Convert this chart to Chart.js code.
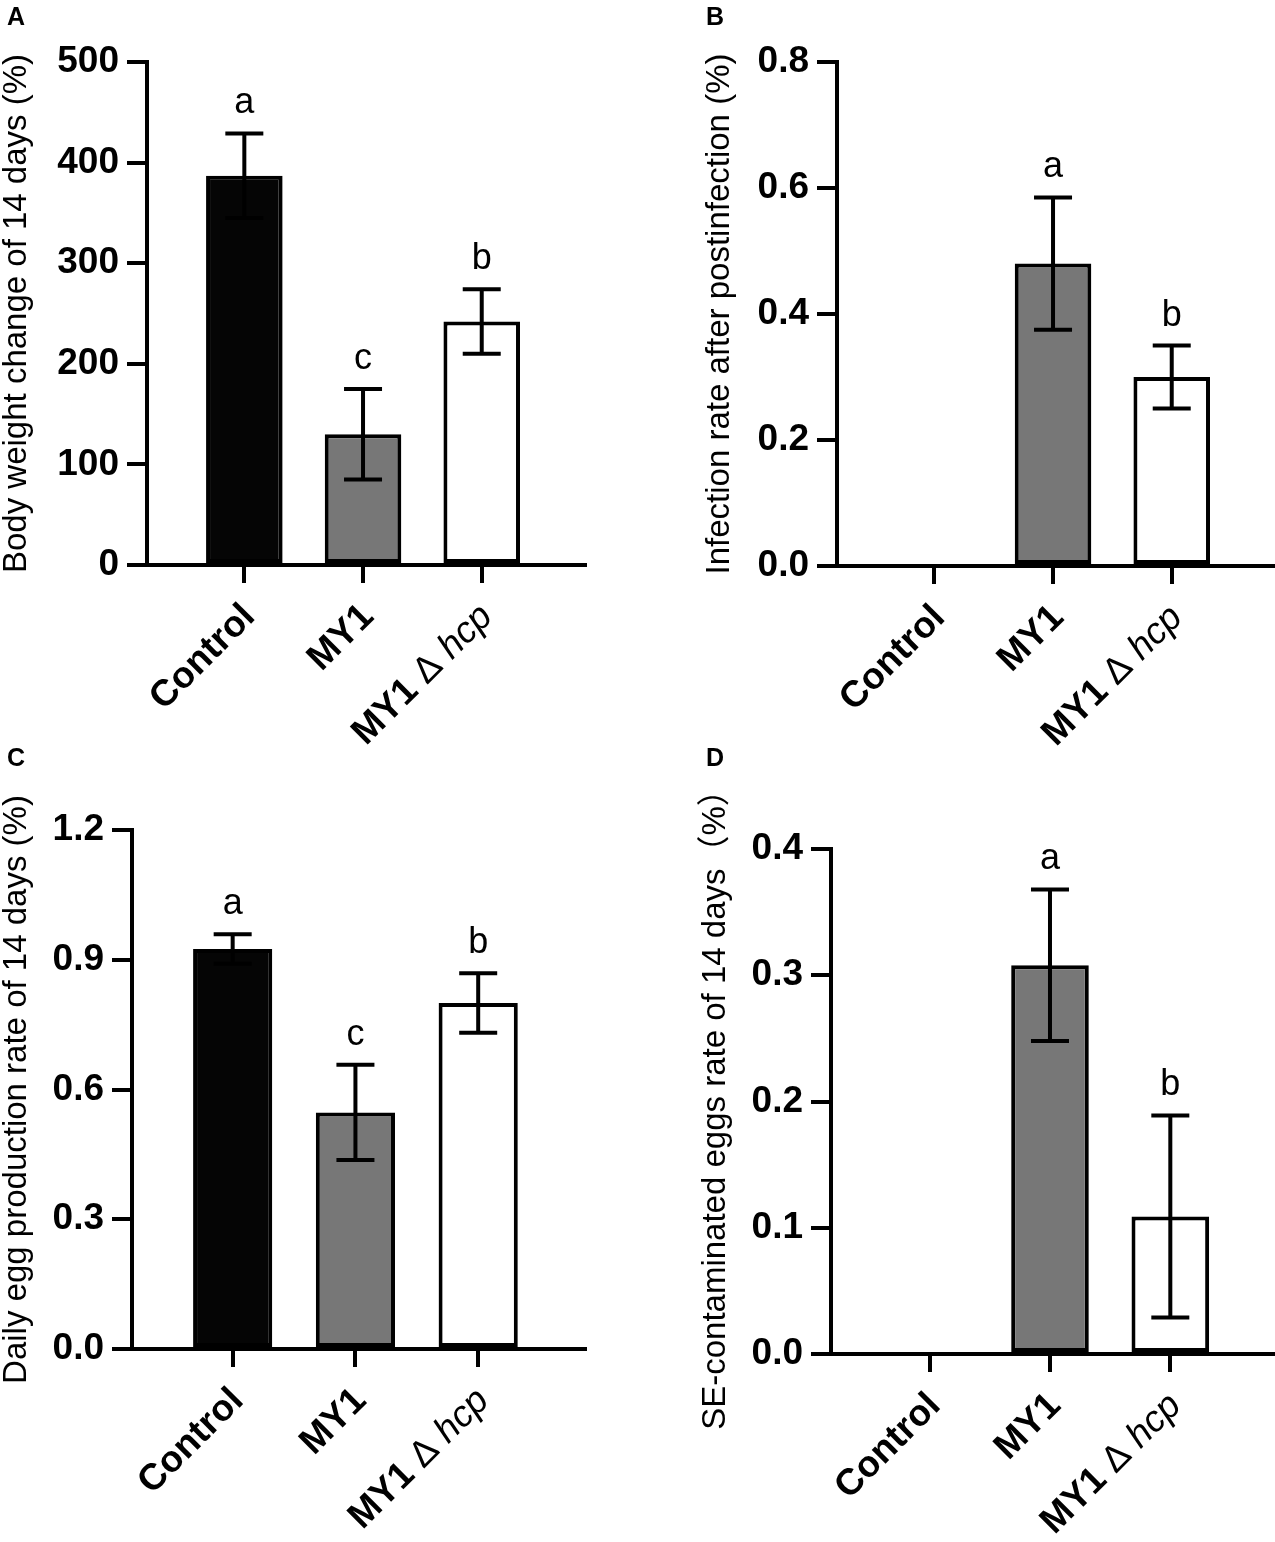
<!DOCTYPE html>
<html>
<head>
<meta charset="utf-8">
<script src="https://cdn.jsdelivr.net/npm/chart.js@4.4.0/dist/chart.umd.min.js"></script>
<style>
  body { margin: 0; background: #fff; }
  #fig { position: relative; width: 1275px; height: 1542px; background: #fff; }
  .panel { position: absolute; }
  .tag { position: absolute; font: bold 25px/25px 'Liberation Sans', Arial, sans-serif; color: #000; }
</style>
</head>
<body>
<div id="fig">
  <div class="panel" style="left:0;top:0;width:637px;height:760px"><canvas id="chartA"></canvas></div>
  <div class="panel" style="left:637px;top:0;width:638px;height:760px"><canvas id="chartB"></canvas></div>
  <div class="panel" style="left:0;top:760px;width:637px;height:782px"><canvas id="chartC"></canvas></div>
  <div class="panel" style="left:637px;top:760px;width:638px;height:782px"><canvas id="chartD"></canvas></div>
  <div class="tag" style="left:7px;top:4px">A</div>
  <div class="tag" style="left:706px;top:4px">B</div>
  <div class="tag" style="left:7px;top:745px">C</div>
  <div class="tag" style="left:706px;top:745px">D</div>
</div>
<script>
const groups = ['Control', 'MY1', 'MY1Δhcp'];

// A - body weight change
const bodyWeight = [387, 130, 242];
const bodyWeightErr = [42, 45, 32];
const bodyWeightSig = ['a', 'c', 'b'];
const ticksA = [0, 100, 200, 300, 400, 500];
const tickLabelsA = ['0', '100', '200', '300', '400', '500'];

// B - infection rate
const infection = [0, 0.48, 0.30];
const infectionErr = [0, 0.105, 0.05];
const infectionSig = ['', 'a', 'b'];
const ticksB = [0, 0.2, 0.4, 0.6, 0.8];
const tickLabelsB = ['0.0', '0.2', '0.4', '0.6', '0.8'];

// C - daily egg production
const eggRate = [0.925, 0.547, 0.80];
const eggRateErr = [0.034, 0.11, 0.069];
const eggRateSig = ['a', 'c', 'b'];
const ticksC = [0, 0.3, 0.6, 0.9, 1.2];
const tickLabelsC = ['0.0', '0.3', '0.6', '0.9', '1.2'];

// D - SE-contaminated eggs
const seEggs = [0, 0.308, 0.109];
const seEggsErr = [0, 0.06, 0.08];
const seEggsSig = ['', 'a', 'b'];
const ticksD = [0, 0.1, 0.2, 0.3, 0.4];
const tickLabelsD = ['0.0', '0.1', '0.2', '0.3', '0.4'];

const FONT = "'Liberation Sans', Arial, 'Noto Sans CJK SC', sans-serif";
const barFill = ['#050505', '#777777', '#ffffff'];

function drawGroupLabel(ctx, text, x, y) {
  let parts = [[text, 'bold 37px ' + FONT]];
  const k = text.indexOf('Δ');
  if (k >= 0) {
    parts = [
      [text.slice(0, k), 'bold 37px ' + FONT],
      [' Δ', '37px ' + FONT],
      [' ' + text.slice(k + 1), 'italic 37px ' + FONT]
    ];
  }
  ctx.save();
  ctx.translate(x, y);
  ctx.rotate(-Math.PI / 4);
  ctx.textBaseline = 'top';
  ctx.textAlign = 'left';
  ctx.fillStyle = '#000';
  let total = 0;
  parts.forEach(p => { ctx.font = p[1]; total += ctx.measureText(p[0]).width; });
  let cx = -total;
  parts.forEach(p => {
    ctx.font = p[1];
    ctx.fillText(p[0], cx, 0);
    cx += ctx.measureText(p[0]).width;
  });
  ctx.restore();
}

// error bars, significance letters and the rotated group names
const extras = {
  id: 'extras',
  afterDatasetsDraw(chart, args, opts) {
    const ctx = chart.ctx;
    const x = chart.scales.x, y = chart.scales.y;
    const pts = chart.data.datasets[0].data;
    ctx.save();
    ctx.strokeStyle = '#000';
    ctx.lineWidth = 4;
    opts.err.forEach((e, i) => {
      const v = pts[i].y;
      const px = x.getPixelForValue(i);
      const top = y.getPixelForValue(v + e);
      if (e > 0) {
        const bot = y.getPixelForValue(v - e);
        ctx.beginPath();
        ctx.moveTo(px, top); ctx.lineTo(px, bot);
        ctx.moveTo(px - 19, top); ctx.lineTo(px + 19, top);
        ctx.moveTo(px - 19, bot); ctx.lineTo(px + 19, bot);
        ctx.stroke();
      }
      if (opts.sig[i]) {
        ctx.fillStyle = '#000';
        ctx.font = '36px ' + FONT;
        ctx.textAlign = 'center';
        ctx.textBaseline = 'alphabetic';
        ctx.fillText(opts.sig[i], px, top - 20);
      }
    });
    ctx.restore();
    chart.data.labels.forEach((lab, i) => {
      drawGroupLabel(ctx, lab, x.getPixelForValue(i) - 8, x.top + 33);
    });
  }
};

function makeChart(id, values, errs, sigs, ticks, tickLabels, title, box) {
  return new Chart(document.getElementById(id), {
    type: 'bar',
    data: {
      labels: groups,
      datasets: [{
        data: values.map((v, i) => ({ x: i, y: v })),
        backgroundColor: barFill,
        borderColor: '#000',
        borderWidth: 4,
        borderSkipped: false,
        barPercentage: 0.645,
        categoryPercentage: 1
      }]
    },
    options: {
      responsive: true,
      maintainAspectRatio: false,
      animation: false,
      devicePixelRatio: 1,
      layout: { padding: { left: box.padLeft, top: box.top, right: box.right, bottom: 0 } },
      plugins: {
        legend: { display: false },
        tooltip: { enabled: false },
        extras: { err: errs, sig: sigs }
      },
      scales: {
        x: {
          type: 'linear',
          offset: false,
          min: -0.82,
          max: 2.87,
          afterBuildTicks: s => { s.ticks = groups.map((g, i) => ({ value: i })); },
          afterFit: s => { s.height = box.xHeight; },
          ticks: { display: false },
          grid: { offset: false, drawOnChartArea: false, drawTicks: true, tickLength: 18, lineWidth: 4, color: '#000' },
          border: { display: true, width: 4, color: '#000' }
        },
        y: {
          min: ticks[0],
          max: ticks[ticks.length - 1],
          afterBuildTicks: s => { s.ticks = ticks.map(v => ({ value: v })); },
          afterFit: s => { s.width = box.yWidth; },
          ticks: {
            padding: 8,
            color: '#000',
            font: { family: FONT, size: 37, weight: 'bold' },
            callback: (v, i) => tickLabels[i]
          },
          grid: { drawOnChartArea: false, drawTicks: true, tickLength: 20, lineWidth: 4, color: '#000' },
          border: { display: true, width: 4, color: '#000' },
          title: {
            display: true,
            text: title,
            color: '#000',
            padding: { top: 0, bottom: 0 },
            font: { family: FONT, size: 33, lineHeight: 1 }
          }
        }
      }
    },
    plugins: [extras]
  });
}

makeChart('chartA', bodyWeight, bodyWeightErr, bodyWeightSig, ticksA, tickLabelsA,
  'Body weight change of 14 days (%)',
  { padLeft: 0, yWidth: 147, top: 62, right: 52, xHeight: 195 });
makeChart('chartB', infection, infectionErr, infectionSig, ticksB, tickLabelsB,
  'Infection rate after postinfection (%)',
  { padLeft: 66, yWidth: 134, top: 62, right: 0, xHeight: 194 });
makeChart('chartC', eggRate, eggRateErr, eggRateSig, ticksC, tickLabelsC,
  'Daily egg production rate of 14 days (%)',
  { padLeft: 0, yWidth: 132, top: 70, right: 52, xHeight: 193 });
makeChart('chartD', seEggs, seEggsErr, seEggsSig, ticksD, tickLabelsD,
  'SE-contaminated eggs rate of 14 days（%）',
  { padLeft: 62, yWidth: 132, top: 89, right: 0, xHeight: 188 });
</script>
</body>
</html>
